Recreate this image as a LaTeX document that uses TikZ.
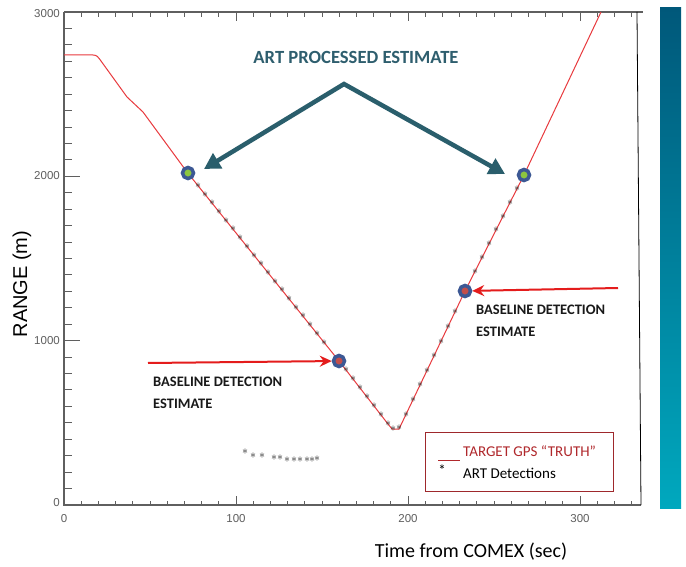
\documentclass[tikz,border=0pt]{standalone}
\usepackage{fontspec}
\setmainfont{Carlito}
\newfontfamily\arialf{Liberation Sans}
\usetikzlibrary{arrows.meta}
\definecolor{truth}{RGB}{232,58,62}
\definecolor{teal1}{RGB}{42,94,108}
\definecolor{titlec}{RGB}{46,94,110}
\definecolor{ringc}{RGB}{60,88,148}
\definecolor{greenc}{RGB}{140,198,63}
\definecolor{redc}{RGB}{196,78,74}
\definecolor{arrred}{RGB}{228,28,28}
\definecolor{axisc}{RGB}{95,95,95}
\definecolor{legc}{RGB}{158,40,44}
\definecolor{legtxt}{RGB}{176,40,44}
\definecolor{bartop}{RGB}{0,88,122}
\definecolor{barbot}{RGB}{0,168,190}
\begin{document}
\begin{tikzpicture}[x=1pt,y=-1pt,
  axisline/.style={draw=axisc, line width=1.1pt},
  tickline/.style={draw=axisc, line width=1pt},
  ticklab/.style={font=\arialf\fontsize{11.5}{12}\selectfont, text=axisc, inner sep=0pt},
  truthline/.style={draw=truth, line width=1pt, line join=round},
  mk/.style={inner sep=0pt, font=\fontsize{12}{12}\selectfont, text=black!85},
  dotg/.style={circle, draw=ringc, line width=3.5pt, fill=greenc, minimum size=11pt, inner sep=0pt},
  dotr/.style={dotg, fill=redc},
  tealarrow/.style={draw=teal1, line width=4.5pt, line join=miter, {Triangle[length=16pt,width=17pt]}-{Triangle[length=16pt,width=17pt]}},
  redarrow/.style={draw=arrred, line width=2pt, -{Stealth[length=12pt,width=11pt,inset=4pt]}},
  notetext/.style={font=\bfseries\fontsize{14.5}{22}\selectfont, align=left, inner sep=0pt, anchor=north west, text=black!90},
]
\useasboundingbox (0,0) rectangle (686,567);
\fill[white] (0,0) rectangle (686,567);

% gradient bar
\shade[top color=bartop, bottom color=barbot] (660,8) rectangle (681,508);

% axes frame
\draw[axisline] (64,12) -- (64,505) -- (641,505);
\draw[axisline] (64,12) -- (643,12);
\draw[black, line width=0.8pt] (637,12) -- (641,505);

% ticks
\foreach \t in {10,20,...,330} {
  \draw[tickline] ({64+1.72*\t},505) -- ++(0,-4.5);
  \draw[tickline] ({64+1.72*\t},12) -- ++(0,5);
}
\foreach \t in {100,200,300} {
  \draw[tickline] ({64+1.72*\t},505) -- ++(0,-9);
  \draw[tickline] ({64+1.72*\t},12) -- ++(0,9);
}
\foreach \r in {100,200,...,2900} {
  \draw[tickline] (64,{505-0.1643*\r}) -- ++(8,0);
}
\foreach \r in {1000,2000} {
  \draw[tickline] (64,{505-0.1643*\r}) -- ++(16,0);
}

% tick labels
\node[ticklab, anchor=east] (yl3000) at (60,14) {3000};
\node[ticklab, anchor=east] (yl2000) at (60,176) {2000};
\node[ticklab, anchor=east] (yl1000) at (60,341) {1000};
\node[ticklab, anchor=east] (yl0) at (60,503) {0};
\node[ticklab] (xl0) at (64,519) {0};
\node[ticklab] (xl100) at (236,519) {100};
\node[ticklab] (xl200) at (408,519) {200};
\node[ticklab] (xl300) at (580,519) {300};

% axis titles
\node[font=\arialf\fontsize{20}{24}\selectfont, rotate=90] (ylab) at (22,284) {RANGE (m)};
\node[font=\fontsize{20}{24}\selectfont] (xlab) at (471,552) {Time from COMEX (sec)};

% truth curve
\draw[truthline] (64,55) -- (93,55) .. controls (97,55) and (98,57) .. (101,61)
  -- (127,97) -- (143,112) -- (187,172) -- (339,361) -- (388,424) -- (392,429)
  -- (399,429) -- (465,291) -- (524,175) -- (601,12);

% detection markers along the track
\foreach \i in {0,...,18} {
  \pgfmathsetmacro{\mx}{198+7*\i}
  \node[mk] (mA\i) at (\mx,{172+(\mx-187)*1.243}) {$\ast$};
}
\foreach \i in {0,...,6} {
  \pgfmathsetmacro{\mx}{346+7*\i}
  \node[mk] (mB\i) at (\mx,{361+(\mx-339)*1.283}) {$\ast$};
}
\node[mk] (mm1) at (393,429) {$\ast$};
\node[mk] (mm2) at (399,428) {$\ast$};
\foreach \i in {0,...,7} {
  \pgfmathsetmacro{\mx}{406+7*\i}
  \node[mk] (mC\i) at (\mx,{429-(\mx-399)*2.09}) {$\ast$};
}
\foreach \i in {0,...,6} {
  \pgfmathsetmacro{\mx}{475+7*\i}
  \node[mk] (mD\i) at (\mx,{291-(\mx-465)*1.966}) {$\ast$};
}
% stray detections
\foreach \p [count=\k] in {(245,452),(253,456),(262,456),(274,458),(280,458),(287,460),(294,460),(300,460),(307,460),(312,460),(317,459)} {
  \node[mk] (ms\k) at \p {$\ast$};
}

% estimate dots
\node[dotg] (g1) at (188,173) {};
\node[dotr] (r1) at (339,361) {};
\node[dotr] (r2) at (465,291) {};
\node[dotg] (g2) at (524,175) {};

% ART processed estimate
\node[font=\bfseries\fontsize{18.6}{22}\selectfont, text=titlec] (title) at (356,57) {ART PROCESSED ESTIMATE};
\coordinate (apex) at (344,84);
\coordinate (tipL) at (204,169);
\coordinate (tipR) at (505,174);
\draw[tealarrow] (tipL) -- (apex) -- (tipR);

% baseline detection estimate
\coordinate (la) at (148,363);
\coordinate (ra) at (618,288);
\draw[redarrow] (la) -- (r1);
\draw[redarrow] (ra) -- (r2);
\node[notetext] (bl1) at (153,377) {BASELINE DETECTION\\ESTIMATE};
\node[notetext] (bl2) at (476,305) {BASELINE DETECTION\\ESTIMATE};

% legend
\node[draw=legc, line width=0.9pt, minimum width=188pt, minimum height=59pt, inner sep=0pt, anchor=north west] (leg) at (425,432) {};
\coordinate (lg1) at (438,460);
\coordinate (lg2) at (460,460);
\draw[draw=legtxt, line width=1pt] (lg1) -- (lg2);
\node[font=\fontsize{15}{18}\selectfont, text=legtxt, anchor=west, inner sep=0pt] (legt1) at (463,451) {TARGET GPS “TRUTH”};
\node[font=\fontsize{15}{18}\selectfont, anchor=center, inner sep=0pt] (legs) at (442,470) {*};
\node[font=\fontsize{15}{18}\selectfont, anchor=west, inner sep=0pt] (legt2) at (463,473) {ART Detections};
\end{tikzpicture}
\end{document}
